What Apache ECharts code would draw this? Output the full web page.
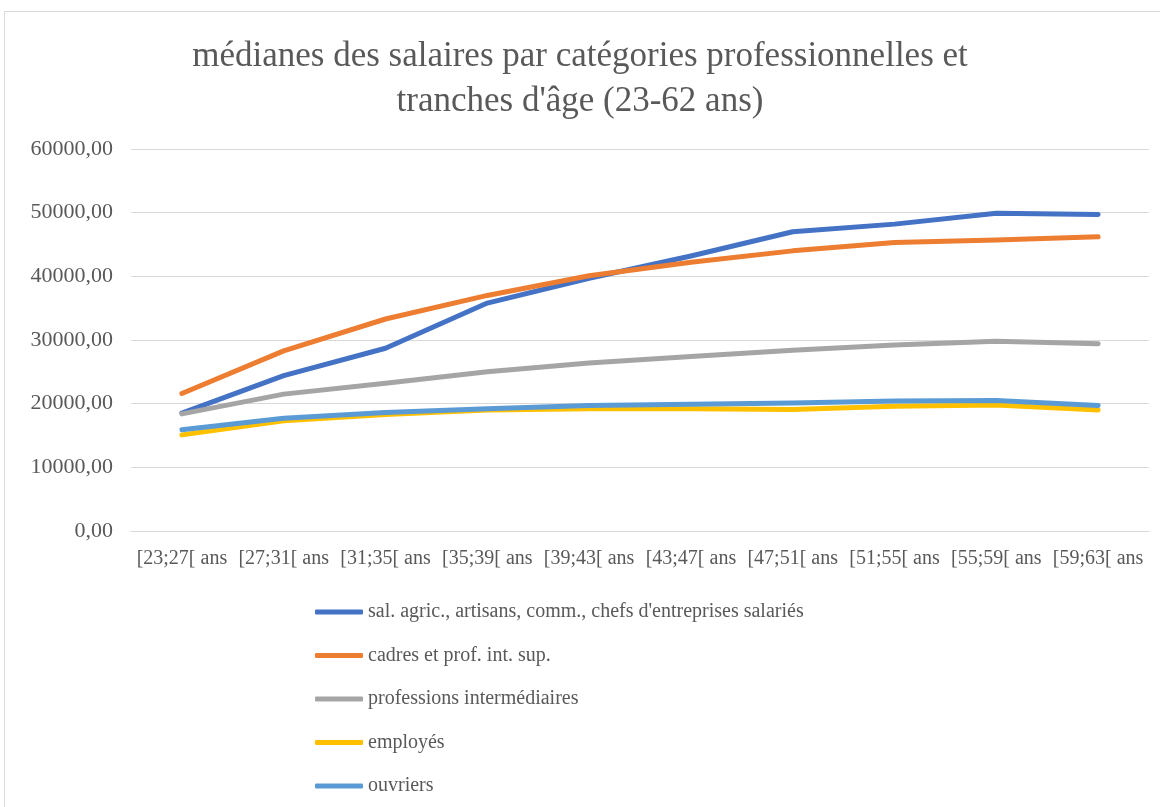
<!DOCTYPE html>
<html>
<head>
<meta charset="utf-8">
<script src="https://cdn.jsdelivr.net/npm/echarts@6/dist/echarts.min.js"></script>
<style>
  html, body { margin: 0; padding: 0; background: #fff; overflow: hidden; }
  #main { position: absolute; left: 0; top: 0; width: 1160px; height: 807px; }
  #frame { position: absolute; left: 4px; top: 11px; width: 1200px; height: 850px;
           border: 1px solid #d9d9d9; pointer-events: none; }
</style>
</head>
<body>
<div id="main"></div>
<div id="frame"></div>
<script>
var titleText = "médianes des salaires par catégories professionnelles et\ntranches d'âge (23-62 ans)";

var categories = ['[23;27[ ans', '[27;31[ ans', '[31;35[ ans', '[35;39[ ans', '[39;43[ ans',
                  '[43;47[ ans', '[47;51[ ans', '[51;55[ ans', '[55;59[ ans', '[59;63[ ans'];

var seriesNames = [
    "sal. agric., artisans, comm., chefs d'entreprises salariés",
    'cadres et prof. int. sup.',
    'professions intermédiaires',
    'employés',
    'ouvriers'
];
var seriesColors = ['#4472C4', '#ED7D31', '#A5A5A5', '#FFC000', '#5B9BD5'];

var salAgric      = [18500, 24400, 28700, 35800, 39700, 43200, 47000, 48200, 49900, 49700];
var cadres        = [21600, 28300, 33300, 37000, 40100, 42200, 44000, 45300, 45700, 46200];
var profInter     = [18400, 21500, 23200, 25000, 26400, 27400, 28400, 29200, 29800, 29400];
var employes      = [15100, 17300, 18300, 19000, 19200, 19200, 19100, 19600, 19800, 19000];
var ouvriers      = [15900, 17700, 18600, 19200, 19700, 19900, 20100, 20400, 20500, 19700];

var yTicks = { min: 0, max: 60000, interval: 10000 };

var allValues = [salAgric, cadres, profInter, employes, ouvriers];
var serif = "'Liberation Serif', 'DejaVu Serif', serif";

var chart = echarts.init(document.getElementById('main'));

var series = allValues.map(function (vals, i) {
    return {
        name: seriesNames[i],
        type: 'line',
        data: vals,
        showSymbol: false,
        symbol: 'none',
        lineStyle: { color: seriesColors[i], width: 5, cap: 'round', join: 'round' },
        itemStyle: { color: seriesColors[i] },
        emphasis: { disabled: true },
        animation: false
    };
});

var option = {
    backgroundColor: '#ffffff',
    animation: false,
    title: {
        text: titleText,
        left: 'center',
        top: 29,
        textStyle: {
            fontFamily: serif,
            fontSize: 35,
            fontWeight: 'normal',
            color: '#595959',
            lineHeight: 45
        }
    },
    grid: { left: 131, right: 11, top: 149, bottom: 276, containLabel: false },
    legend: {
        orient: 'vertical',
        left: 310,
        top: 597,
        itemWidth: 48,
        itemHeight: 5,
        itemGap: 23.5,
        icon: 'roundRect',
        data: seriesNames,
        textStyle: { fontFamily: serif, fontSize: 20, color: '#595959', lineHeight: 20 }
    },
    xAxis: {
        type: 'category',
        data: categories,
        boundaryGap: true,
        axisLine: { show: true, lineStyle: { color: '#d9d9d9', width: 1 } },
        axisTick: { show: false },
        axisLabel: {
            interval: 0,
            margin: 18,
            fontFamily: serif,
            fontSize: 20,
            color: '#595959'
        }
    },
    yAxis: {
        type: 'value',
        min: yTicks.min,
        max: yTicks.max,
        interval: yTicks.interval,
        axisLine: { show: false },
        axisTick: { show: false },
        splitLine: { lineStyle: { color: '#d9d9d9', width: 1 } },
        axisLabel: {
            margin: 18,
            fontFamily: serif,
            fontSize: 22,
            color: '#595959',
            formatter: function (v) { return v.toFixed(2).replace('.', ','); }
        }
    },
    series: series
};

chart.setOption(option);
</script>
</body>
</html>
